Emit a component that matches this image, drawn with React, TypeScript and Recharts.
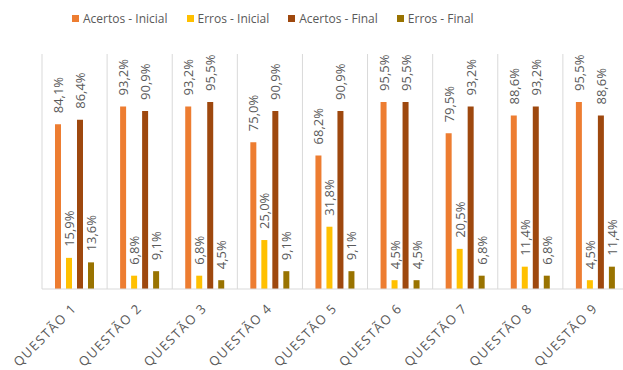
import React from "react";
import {
  BarChart,
  Bar,
  XAxis,
  YAxis,
  CartesianGrid,
  LabelList,
} from "recharts";

// -------------------------------
// Data
// -------------------------------
const questions = [
  "QUESTÃO 1",
  "QUESTÃO 2",
  "QUESTÃO 3",
  "QUESTÃO 4",
  "QUESTÃO 5",
  "QUESTÃO 6",
  "QUESTÃO 7",
  "QUESTÃO 8",
  "QUESTÃO 9",
];
const acertosInicial = [84.1, 93.2, 93.2, 75.0, 68.2, 95.5, 79.5, 88.6, 95.5];
const errosInicial = [15.9, 6.8, 6.8, 25.0, 31.8, 4.5, 20.5, 11.4, 4.5];
const acertosFinal = [86.4, 90.9, 95.5, 90.9, 90.9, 95.5, 93.2, 93.2, 88.6];
const errosFinal = [13.6, 9.1, 4.5, 9.1, 9.1, 4.5, 6.8, 6.8, 11.4];

const series = [
  { key: "acertosInicial", name: "Acertos - Inicial", color: "#ED7D31" },
  { key: "errosInicial", name: "Erros - Inicial", color: "#FFC000" },
  { key: "acertosFinal", name: "Acertos - Final", color: "#9E480E" },
  { key: "errosFinal", name: "Erros - Final", color: "#997300" },
];

const data = questions.map((q, i) => ({
  question: q,
  acertosInicial: acertosInicial[i],
  errosInicial: errosInicial[i],
  acertosFinal: acertosFinal[i],
  errosFinal: errosFinal[i],
}));

const TEXT = "#595959";
const FONT = "'Open Sans', sans-serif";

const fmt = (v: number) => `${v.toFixed(1).replace(".", ",")}%`;

// rotated value label above each bar
const ValueLabel = (props: any) => {
  const { x, y, width, value } = props;
  const cx = x + width / 2;
  const ty = y - 11;
  return (
    <text
      x={cx}
      y={ty}
      transform={`rotate(-90, ${cx}, ${ty})`}
      textAnchor="start"
      dominantBaseline="central"
      fill={TEXT}
      fontSize={13}
      fontFamily={FONT}
    >
      {fmt(value)}
    </text>
  );
};

const QuestionTick = (props: any) => {
  const { x, y, payload } = props;
  const tx = x + 3;
  const ty = y + 12;
  return (
    <text
      x={tx}
      y={ty}
      transform={`rotate(-45, ${tx}, ${ty})`}
      textAnchor="end"
      fill={TEXT}
      fontSize={13}
      fontFamily={FONT}
      letterSpacing={1.4}
    >
      {payload.value}
    </text>
  );
};

const LegendRow = () => (
  <div
    style={{
      position: "absolute",
      top: 10,
      left: 72,
      display: "flex",
      alignItems: "center",
      fontFamily: FONT,
      fontSize: 12,
      color: TEXT,
      whiteSpace: "nowrap",
    }}
  >
    {series.map((s, i) => (
      <div
        key={s.key}
        style={{ display: "flex", alignItems: "center", marginRight: i < 3 ? 19 : 0 }}
      >
        <span
          style={{
            display: "inline-block",
            width: 7,
            height: 7,
            background: s.color,
            marginRight: 4,
          }}
        />
        {s.name}
      </div>
    ))}
  </div>
);

export default function App() {
  return (
    <div
      style={{
        position: "absolute",
        left: 0,
        top: 0,
        width: 623,
        height: 370,
        overflow: "hidden",
        background: "#fff",
      }}
    >
      <LegendRow />
      <BarChart
        width={640}
        height={370}
        data={data}
        margin={{ top: 54, right: 12, left: 42, bottom: 0 }}
        barSize={6}
        barGap={5}
      >
        <CartesianGrid
          horizontal={false}
          stroke="#D9D9D9"
          verticalCoordinatesGenerator={({ offset }: any) =>
            Array.from(
              { length: questions.length + 1 },
              (_, i) => offset.left + (i * offset.width) / questions.length
            )
          }
        />
        <XAxis
          dataKey="question"
          height={81}
          axisLine={{ stroke: "#D9D9D9" }}
          tickLine={false}
          interval={0}
          tick={<QuestionTick />}
        />
        <YAxis hide domain={[0, 120]} />
        {series.map((s) => (
          <Bar
            key={s.key}
            dataKey={s.key}
            name={s.name}
            fill={s.color}
            isAnimationActive={false}
          >
            <LabelList dataKey={s.key} content={<ValueLabel />} />
          </Bar>
        ))}
      </BarChart>
    </div>
  );
}
